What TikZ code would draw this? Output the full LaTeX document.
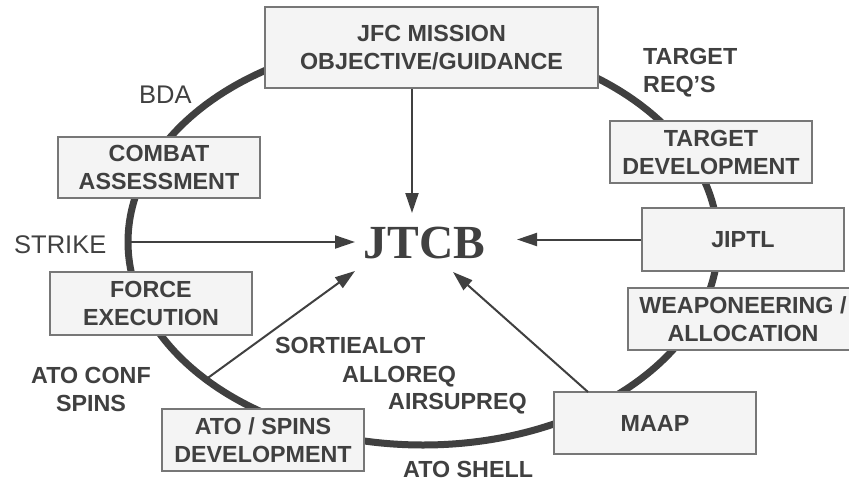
\documentclass[tikz,border=0pt]{standalone}
\usepackage{fontspec}
\setmainfont{Liberation Sans}
\newfontfamily\serifbold{Liberation Serif}
\usetikzlibrary{arrows.meta}
\definecolor{ink}{HTML}{404040}
\definecolor{boxfill}{HTML}{F4F4F4}
\definecolor{boxline}{HTML}{777777}
\tikzset{
  box/.style={draw=boxline, line width=1.5pt, fill=boxfill, text=ink,
    font=\fontsize{23.3}{28}\selectfont\bfseries, align=center,
    minimum width=202pt, minimum height=62pt, inner sep=0pt},
  ring/.style={draw=ink, line width=7pt},
  arr/.style={draw=ink, line width=2pt, -{Triangle[length=20pt,width=13pt]}},
  lbl/.style={text=ink, font=\fontsize{23.3}{28}\selectfont\bfseries, inner sep=0pt},
  lblr/.style={text=ink, font=\fontsize{25.5}{30}\selectfont, inner sep=0pt},
}
\begin{document}
\begin{tikzpicture}[x=1pt,y=-1pt]
\clip (0,0) rectangle (849,482);
\fill[white] (0,0) rectangle (849,482);
% ring
\draw[ring] (423,242) ellipse [x radius=295, y radius=203];
% boxes
\node[box, minimum width=333pt, minimum height=81pt] (jfc) at (431.5,47.5) {JFC MISSION\\OBJECTIVE/GUIDANCE};
\node[box, minimum height=61pt] (combat) at (159,167.5) {COMBAT\\ASSESSMENT};
\node[box, minimum height=63pt] (force) at (151,303.5) {FORCE\\EXECUTION};
\node[box] (tdev) at (711,152) {TARGET\\DEVELOPMENT};
\node[box, minimum height=63pt] (jiptl) at (743,239.5) {JIPTL};
\node[box, minimum width=230pt] (weap) at (743,319) {WEAPONEERING /\\ALLOCATION};
\node[box] (ato) at (263,440) {ATO / SPINS\\DEVELOPMENT};
\node[box] (maap) at (655,423) {MAAP};
% centre
\node[text=ink, font=\fontsize{47.5}{50}\serifbold\bfseries, inner sep=0pt] (jtcb) at (424.5,243) {JTCB};
% arrow end points
\coordinate (tTop) at (412,213);
\coordinate (tLeft) at (355,242);
\coordinate (sLeft) at (128,242);
\coordinate (tRight) at (517,239.5);
\coordinate (tLL) at (355,271);
\coordinate (sLL) at (205,380);
\coordinate (tLR) at (453,272);
\coordinate (sLR) at (588,392);
\draw[arr] (jfc.south -| tTop) -- (tTop);
\draw[arr] (sLeft) -- (tLeft);
\draw[arr] (jiptl.west) -- (tRight);
\draw[arr] (sLL) -- (tLL);
\draw[arr] (sLR) -- (tLR);
% labels
\node[lbl, anchor=north west, align=left] (treq) at (643,48) {TARGET\\REQ’S};
\node[lblr, anchor=base west] (bda) at (139,103) {BDA};
\node[lblr, anchor=base west] (strike) at (14,253) {STRIKE};
\node[lbl, anchor=north, align=center] (atoconf) at (91,367) {ATO CONF\\SPINS};
\node[lbl, anchor=base west] (sortie) at (275,353) {SORTIEALOT};
\node[lbl, anchor=base west] (alloreq) at (342,382) {ALLOREQ};
\node[lbl, anchor=base west] (airsup) at (388,409) {AIRSUPREQ};
\node[lbl, anchor=base west] (atoshell) at (403,477) {ATO SHELL};
\end{tikzpicture}
\end{document}
